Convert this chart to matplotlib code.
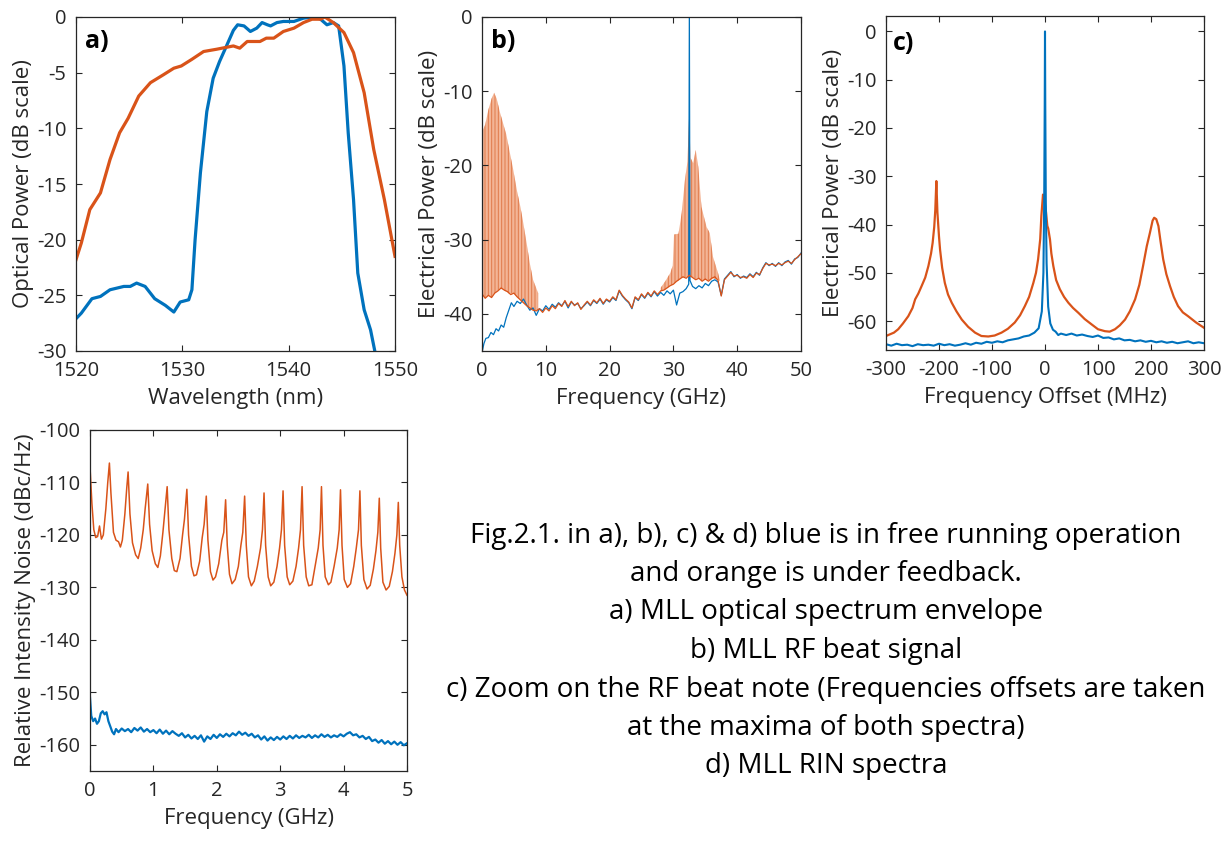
import matplotlib
matplotlib.use("Agg")
import matplotlib.pyplot as plt

plt.rcParams['font.family'] = ['Open Sans', 'DejaVu Sans']
plt.rcParams['hatch.linewidth'] = 0.7
plt.rcParams['axes.unicode_minus'] = False

BLUE = '#0072BD'
ORANGE = '#D95319'
DARK = '#262626'

# ---------------- panel a: optical spectrum envelope ----------------
a_wl_orange = [1520, 1520.5, 1521.3, 1522.3, 1523.2, 1524.1, 1524.9, 1525.9, 1527.0, 1528.2,
               1529.2, 1529.9, 1530.9, 1532.0, 1533.2, 1534.8, 1535.4, 1536.1, 1537.3, 1537.9,
               1538.6, 1539.5, 1540.5, 1541.4, 1542.2, 1543.0, 1543.4, 1544.2, 1545.2, 1546.1,
               1547.1, 1548.0, 1549.0, 1550.0]
a_orange = [-21.8, -20.3, -17.3, -15.8, -12.8, -10.4, -9.1, -7.1, -5.9, -5.2,
            -4.6, -4.4, -3.8, -3.1, -2.9, -2.6, -2.8, -2.2, -2.2, -1.9,
            -1.9, -1.3, -1.0, -0.5, -0.2, -0.2, 0.0, -0.5, -1.4, -3.2,
            -6.8, -11.9, -16.4, -21.5]
a_wl_blue = [1520, 1520.5, 1521.5, 1522.3, 1523.2, 1524.5, 1525.1, 1525.7, 1526.5, 1527.4,
             1528.4, 1529.2, 1529.8, 1530.6, 1530.9, 1531.2, 1531.7, 1532.3, 1532.9, 1533.5,
             1534.2, 1534.8, 1535.2, 1535.8, 1536.4, 1537.0, 1537.5, 1538.0, 1538.3, 1538.9,
             1539.5, 1540.5, 1541.4, 1542.5, 1543.0, 1543.6, 1544.2, 1544.7, 1545.2, 1545.6,
             1546.1, 1546.5, 1547.1, 1547.7, 1548.1, 1548.4]
a_blue = [-27.1, -26.6, -25.3, -25.1, -24.5, -24.2, -24.2, -23.9, -24.2, -25.3,
          -25.9, -26.5, -25.6, -25.4, -24.5, -20.0, -14.0, -8.5, -5.5, -4.0,
          -2.5, -1.2, -0.7, -0.8, -1.3, -1.0, -0.5, -0.7, -0.8, -0.5,
          -0.4, -0.4, -0.1, 0.0, -0.2, -0.7, -0.5, -0.8, -4.4, -10.4,
          -16.4, -23.0, -26.3, -28.1, -30.0, -31.0]

# ---------------- panel b: RF beat signal ----------------
b_freq_blue = [0, 0.05, 0.3, 0.6, 1.0, 1.4, 1.8, 2.2, 2.6, 3.0, 3.4, 3.8, 4.2, 4.6, 5.0, 5.5,
               6.0, 6.5, 7.0, 7.5, 8.0, 8.5, 9.0, 9.5,
               10.0, 10.5, 11.0, 11.5, 12.0, 12.5, 13.0, 13.5, 14.0, 14.5, 15.0, 15.5, 16.0, 16.5,
               17.0, 17.5, 18.0, 18.5, 19.0, 19.5, 20.0, 20.5, 21.0, 21.5, 22.0, 22.5, 23.0, 23.5,
               24.0, 24.5, 25.0, 25.5, 26.0, 26.5, 27.0, 27.5, 28.0, 28.5, 29.0, 29.5, 30.0, 30.5,
               31.0, 31.5, 32.0, 32.4, 32.5, 32.6, 33.0, 33.5, 34.0, 34.5, 35.0, 35.5, 36.0, 36.5,
               37.0, 37.5, 38.0, 38.5, 39.0, 39.5, 40.0, 40.5, 41.0, 41.5, 42.0, 42.5, 43.0, 43.5,
               44.0, 44.5, 45.0, 45.5, 46.0, 46.5, 47.0, 47.5, 48.0, 48.5, 49.0, 49.5, 50.0]
b_blue = [-33.5, -45.0, -44.0, -43.3, -43.2, -42.5, -42.8, -42.0, -42.3, -41.5, -41.8, -40.5, -39.5, -38.5, -39.0, -38.3,
          -38.6, -38.0, -38.8, -39.5, -39.2, -40.2, -39.3, -39.6,
          -38.9, -39.4, -38.7, -39.1, -38.5, -38.9, -38.3, -39.2, -38.4, -38.8, -38.6, -39.3, -38.9, -38.4,
          -38.9, -38.2, -38.6, -38.0, -38.7, -38.1, -38.4, -37.8, -38.2, -36.9, -37.6, -38.1, -38.5, -39.3,
          -37.8, -38.2, -37.4, -37.9, -37.2, -37.7, -37.0, -37.6, -37.1, -37.5, -36.9, -37.3, -36.8, -38.8,
          -37.2, -37.0, -36.6, -36.0, 1.0, -35.5, -36.3, -36.6, -36.2, -36.5, -35.9, -36.2, -35.6, -35.4,
          -35.7, -37.5, -35.3, -34.8, -34.3, -35.0, -34.7, -35.2, -34.9, -35.1, -34.6, -35.0, -34.4, -34.8,
          -33.8, -33.1, -33.5, -33.2, -33.6, -33.1, -33.5, -33.0, -32.8, -33.3, -32.6, -32.4, -31.8]

b_freq_orange = [0, 0.5, 1.0, 1.5, 2.0, 2.5, 3.0, 3.5, 4.0, 4.5, 5.0, 5.5, 6.0, 6.5, 7.0, 7.5, 8.0, 8.5,
                 9.0, 9.5, 10.0, 10.5, 11.0, 11.5, 12.0, 12.5, 13.0, 13.5, 14.0, 14.5, 15.0, 15.5,
                 16.0, 16.5, 17.0, 17.5, 18.0, 18.5, 19.0, 19.5, 20.0, 20.5, 21.0, 21.5, 22.0, 22.5,
                 23.0, 23.5, 24.0, 24.5, 25.0, 25.5, 26.0, 26.5, 27.0, 27.5, 28.0, 28.5, 29.0, 29.5,
                 30.0, 30.5, 31.0, 31.5, 32.0, 32.5, 33.0, 33.5, 34.0, 34.5, 35.0, 35.5, 36.0, 36.5,
                 37.0, 37.5, 38.0, 38.5, 39.0, 39.5, 40.0, 40.5, 41.0, 41.5, 42.0, 42.5, 43.0, 43.5,
                 44.0, 44.5, 45.0, 45.5, 46.0, 46.5, 47.0, 47.5, 48.0, 48.5, 49.0, 49.5, 50.0]
b_orange = [-37.3, -37.9, -37.5, -37.8, -37.2, -36.9, -36.5, -36.8, -37.0, -37.4, -37.2, -37.7, -38.1, -38.5, -38.9, -39.2, -39.5, -39.6,
            -39.3, -39.8, -39.2, -39.6, -38.9, -39.3, -38.6, -39.0, -38.2, -39.0, -38.3, -38.9, -38.5, -39.4,
            -38.8, -38.3, -38.8, -38.1, -38.5, -37.9, -38.6, -38.0, -38.3, -37.7, -38.1, -36.8, -37.5, -38.0,
            -38.4, -39.2, -37.7, -38.1, -37.3, -37.8, -37.1, -37.6, -36.9, -37.4, -36.9, -36.8, -36.5, -36.2,
            -36.0, -35.6, -35.3, -35.0, -35.2, -34.8, -35.1, -35.4, -35.2, -35.6, -35.3, -35.6, -35.2, -35.0,
            -35.5, -37.6, -35.4, -34.9, -34.4, -34.9, -34.8, -35.1, -35.0, -35.2, -34.7, -35.1, -34.5, -34.7,
            -33.9, -33.2, -33.4, -33.3, -33.5, -33.2, -33.4, -33.1, -32.9, -33.2, -32.7, -32.3, -31.9]

# comb regions (dense mode-beating lines under feedback): envelope top / bottom
comb1_freq = [0, 0.5, 1.0, 1.5, 1.9, 2.3, 2.8, 3.3, 3.8, 4.3, 4.9, 5.5, 6.0, 6.4, 7.0, 7.5, 8.0, 8.8]
comb1_top = [-15.5, -14.5, -12.5, -11.0, -10.2, -11.0, -12.8, -14.3, -15.8, -18.0, -20.6, -23.5,
             -25.5, -27.4, -30.5, -33.2, -35.4, -37.2]
comb1_bottom = [-37.3, -37.9, -37.5, -37.8, -37.3, -37.0, -36.6, -36.7, -37.0, -37.3, -37.2, -37.7,
                -38.1, -38.4, -38.9, -39.2, -39.5, -39.5]
comb2_freq = [28.0, 28.8, 29.5, 29.9, 30.1, 30.8, 31.3, 31.8, 32.2, 32.45, 32.7, 33.1, 33.5, 33.9,
              34.4, 35.2, 35.7, 36.2, 37.0, 37.3]
comb2_top = [-36.5, -35.5, -34.5, -33.5, -29.3, -29.2, -26.4, -22.0, -19.5, -13.6, -19.0, -19.7,
             -17.9, -20.2, -25.6, -28.3, -29.1, -32.3, -34.5, -35.5]
comb2_bottom = [-36.9, -36.7, -36.2, -36.0, -35.9, -35.5, -35.1, -35.1, -35.0, -34.9, -35.0, -35.1,
                -35.3, -35.2, -35.5, -35.4, -35.5, -35.2, -35.4, -35.6]

# ---------------- panel c: zoom on beat note ----------------
c_off_blue = [-300, -290, -280, -270, -260, -250, -240, -230, -220, -210, -200, -190, -180, -170,
              -160, -150, -140, -130, -120, -110, -100, -90, -80, -70, -60,
              -50, -40, -30, -20, -12, -6, -3, -1.5, -0.5, 0, 0.5, 1.5, 3, 6, 10, 15, 20, 25, 30,
              40, 50, 60, 70, 80, 90, 100, 110, 120, 130, 140, 150, 160, 170, 180, 190, 200, 210,
              220, 230, 240, 250, 260, 270, 280, 290, 300]
c_blue = [-64.8, -65.1, -64.7, -65.0, -64.9, -65.2, -64.8, -65.0, -64.9, -65.1, -64.7, -65.0, -64.8, -65.1,
          -64.9, -64.6, -64.9, -64.5, -64.7, -64.3, -64.5, -64.2, -64.4, -64.0, -63.8,
          -63.6, -63.2, -63.0, -62.4, -61.5, -58.0, -50.0, -35.0, -15.0, 0.0, -15.0, -35.0, -48.0, -57.0,
          -60.5, -61.8, -62.2, -62.9, -62.6,
          -62.9, -62.6, -63.0, -62.8, -63.1, -63.3, -63.0, -63.5, -63.4, -63.8, -63.6, -64.0, -63.9, -64.2,
          -64.0, -64.3, -64.1, -64.4, -64.2, -64.5, -64.3, -64.6, -64.4, -64.2, -64.6, -64.4, -64.6]
c_off_orange = [-300, -285, -277, -268, -258, -250, -245, -239, -233, -226,
                -220, -215, -212, -209, -207, -205, -203, -200, -198, -194,
                -189, -183, -176, -167, -157, -145, -132, -120, -107, -95,
                -82, -70, -57, -47, -38, -30, -22, -17, -13, -9,
                -6.9, -3.8, -1, 2, 4.4, 6, 9.4, 12, 15.7, 21,
                28, 36, 44, 53, 63, 75, 88, 100, 113, 122,
                132, 141, 151, 160, 170, 178, 185, 192, 198, 203,
                206, 210, 214, 218, 223, 229, 236, 243, 251, 260,
                270, 285, 300]
c_orange = [-63.1, -62.4, -61.7, -60.5, -59.0, -57.3, -55.5, -54.3, -52.8, -51.0,
            -48.6, -46.0, -43.8, -40.5, -37.0, -31.0, -37.5, -42.5, -45.2, -49.0,
            -52.1, -54.5, -56.2, -58.0, -59.7, -61.2, -62.4, -63.1, -63.2, -63.0,
            -62.4, -61.6, -60.3, -58.8, -56.9, -55.0, -52.1, -50.0, -47.2, -43.0,
            -38.3, -33.8, -35.0, -37.5, -40.3, -40.8, -43.1, -46.0, -48.6, -51.5,
            -53.4, -55.0, -56.2, -57.3, -58.3, -59.6, -60.7, -61.7, -62.1, -62.2,
            -61.7, -60.9, -59.7, -58.0, -55.5, -52.5, -48.6, -44.5, -41.7, -39.2,
            -38.6, -38.9, -40.3, -43.5, -47.2, -50.3, -52.8, -55.0, -56.9, -58.2,
            -59.0, -60.3, -61.4]

# ---------------- panel d: RIN spectra ----------------
d_freq_orange = [0, 0.03, 0.06, 0.09, 0.12, 0.15, 0.18, 0.21, 0.25, 0.28, 0.306,
                 0.33, 0.37, 0.41, 0.45, 0.48, 0.51, 0.55, 0.58, 0.601,
                 0.63, 0.67, 0.72, 0.76, 0.80, 0.84, 0.87, 0.911,
                 0.94, 0.98, 1.03, 1.07, 1.11, 1.15, 1.18, 1.217,
                 1.245, 1.29, 1.33, 1.37, 1.42, 1.46, 1.49, 1.528,
                 1.555, 1.60, 1.64, 1.68, 1.73, 1.77, 1.80, 1.834,
                 1.86, 1.90, 1.94, 1.98, 2.03, 2.08, 2.11, 2.139,
                 2.165, 2.20, 2.24, 2.29, 2.34, 2.38, 2.41, 2.439,
                 2.465, 2.50, 2.545, 2.59, 2.64, 2.69, 2.72, 2.745,
                 2.77, 2.81, 2.85, 2.90, 2.95, 2.99, 3.02, 3.045,
                 3.07, 3.11, 3.15, 3.20, 3.25, 3.29, 3.32, 3.345,
                 3.37, 3.41, 3.45, 3.50, 3.55, 3.60, 3.63, 3.651,
                 3.675, 3.71, 3.76, 3.80, 3.85, 3.90, 3.93, 3.951,
                 3.975, 4.01, 4.06, 4.11, 4.16, 4.20, 4.235, 4.257,
                 4.28, 4.32, 4.37, 4.42, 4.47, 4.51, 4.54, 4.563,
                 4.585, 4.62, 4.67, 4.72, 4.77, 4.81, 4.84, 4.863,
                 4.885, 4.92, 4.96, 5.0]
d_orange = [-107.0, -114.0, -119.0, -120.5, -120.3, -118.3, -120.8, -120.0, -115.0, -110.0, -106.3,
            -112.0, -119.5, -121.0, -121.3, -122.3, -121.0, -116.0, -111.0, -108.0,
            -116.0, -121.5, -123.8, -124.5, -122.5, -119.0, -115.0, -110.3,
            -118.0, -123.0, -125.5, -126.2, -124.0, -119.5, -115.5, -110.8,
            -119.0, -124.5, -126.8, -127.0, -124.5, -120.0, -117.0, -111.3,
            -120.0, -126.0, -127.8, -127.6, -125.0, -120.5, -118.0, -112.6,
            -121.0, -127.0, -128.6, -128.0, -125.5, -121.0, -119.5, -113.3,
            -122.0, -127.5, -129.3, -128.5, -126.0, -122.0, -119.5, -112.6,
            -122.0, -128.0, -129.7, -128.8, -126.0, -122.5, -119.0, -112.0,
            -122.0, -128.0, -129.7, -129.0, -126.0, -122.5, -119.0, -111.6,
            -122.0, -128.0, -129.5, -128.8, -126.0, -122.5, -119.0, -110.8,
            -122.0, -128.0, -129.7, -129.5, -126.0, -122.5, -119.0, -110.8,
            -122.0, -128.0, -129.5, -129.0, -126.0, -122.5, -119.0, -111.4,
            -122.0, -128.5, -130.0, -129.3, -126.0, -122.5, -119.0, -111.6,
            -122.0, -128.5, -130.3, -129.6, -126.5, -123.0, -119.5, -113.0,
            -122.5, -129.0, -130.5, -129.8, -127.0, -123.5, -120.0, -113.8,
            -122.0, -128.0, -130.5, -131.5]
d_freq_blue = [0, 0.02, 0.05, 0.08, 0.11, 0.14, 0.17, 0.2, 0.23, 0.26, 0.29, 0.32, 0.35, 0.38, 0.41,
               0.45, 0.50, 0.55, 0.60, 0.65, 0.70, 0.75, 0.80, 0.85, 0.90, 0.95, 1.00, 1.05, 1.10,
               1.15, 1.20, 1.25, 1.30, 1.35, 1.40, 1.45, 1.50, 1.55, 1.60, 1.65, 1.70, 1.75, 1.80,
               1.85, 1.90, 1.95, 2.00, 2.05, 2.10, 2.15, 2.20, 2.25, 2.30, 2.35, 2.40, 2.45, 2.50,
               2.55, 2.60, 2.65, 2.70, 2.75, 2.80, 2.85, 2.90, 2.95, 3.00, 3.05, 3.10, 3.15, 3.20,
               3.25, 3.30, 3.35, 3.40, 3.45, 3.50, 3.55, 3.60, 3.65, 3.70, 3.75, 3.80, 3.85, 3.90,
               3.95, 4.00, 4.05, 4.10, 4.15, 4.20, 4.25, 4.30, 4.35, 4.40, 4.45, 4.50, 4.55, 4.60,
               4.65, 4.70, 4.75, 4.80, 4.85, 4.90, 4.95, 5.00]
d_blue = [-151.0, -154.5, -155.5, -155.0, -156.0, -155.5, -154.0, -153.6, -154.2, -153.8, -155.5, -156.5, -157.5, -158.0, -157.0,
          -157.6, -156.9, -157.4, -157.0, -157.6, -156.8, -157.3, -156.7, -157.5, -157.0, -157.6, -157.2, -157.8, -157.1,
          -157.9, -157.3, -158.0, -157.4, -157.9, -158.3, -157.8, -158.6, -158.1, -158.8, -158.3, -158.9, -158.2, -159.4,
          -158.4, -158.9, -158.1, -158.7, -158.0, -158.5, -157.9, -158.4, -157.8, -158.2, -157.5, -158.1, -157.7, -158.3,
          -157.9, -158.6, -158.2, -159.0, -158.4, -159.2, -158.6, -159.1, -158.5, -159.0, -158.4, -158.9, -158.3, -158.8,
          -158.2, -158.7, -158.3, -158.6, -158.1, -158.7, -158.2, -158.6, -158.0, -158.5, -158.1, -158.6, -158.2, -158.5,
          -158.0, -158.4, -157.9, -157.6, -158.2, -158.0, -158.6, -158.3, -158.9, -158.5, -159.3, -159.0, -159.6, -159.1,
          -159.8, -159.3, -159.9, -159.4, -160.0, -159.5, -160.1, -159.7]

caption = ("Fig.2.1. in a), b), c) & d) blue is in free running operation\n"
           "and orange is under feedback.\n"
           "a) MLL optical spectrum envelope\n"
           "b) MLL RF beat signal\n"
           "c) Zoom on the RF beat note (Frequencies offsets are taken\n"
           "at the maxima of both spectra)\n"
           "d) MLL RIN spectra")

W, H = 1230, 842
fig = plt.figure(figsize=(W / 100, H / 100), dpi=100)


def px_axes(l, t, r, b):
    return fig.add_axes([l / W, 1 - b / H, (r - l) / W, (b - t) / H])


def style(ax, xlabel, ylabel, letter=None, lx=0.028, ly=0.965):
    for s in ax.spines.values():
        s.set_color(DARK)
        s.set_linewidth(0.9)
    ax.tick_params(direction='in', length=4, width=0.8, top=True, right=True,
                   colors=DARK, labelsize=14.5, pad=7)
    ax.set_xlabel(xlabel, fontsize=16, color=DARK, labelpad=5)
    ax.set_ylabel(ylabel, fontsize=16, color=DARK, labelpad=2)
    if letter:
        ax.text(lx, ly, letter, transform=ax.transAxes, ha='left', va='top',
                fontsize=18, fontweight='bold', color='black')


# panel a
axa = px_axes(76, 17, 395, 351)
axa.plot(a_wl_blue, a_blue, color=BLUE, lw=2.3)
axa.plot(a_wl_orange, a_orange, color=ORANGE, lw=2.3)
axa.set_xlim(1520, 1550)
axa.set_ylim(-30, 0)
axa.set_xticks([1520, 1530, 1540, 1550])
axa.set_yticks([-30, -25, -20, -15, -10, -5, 0])
style(axa, 'Wavelength (nm)', 'Optical Power (dB scale)', 'a)')

# panel b
axb = px_axes(482, 17, 801, 351)
axb.plot(b_freq_blue, b_blue, color=BLUE, lw=0.9)
axb.fill_between(comb1_freq, comb1_bottom, comb1_top, facecolor='#F3B596', edgecolor='#E07A4A',
                 hatch='|||||', linewidth=0)
axb.fill_between(comb2_freq, comb2_bottom, comb2_top, facecolor='#F3B596', edgecolor='#E07A4A',
                 hatch='|||||', linewidth=0)
axb.plot(b_freq_orange, b_orange, color=ORANGE, lw=0.9)
axb.set_xlim(0, 50)
axb.set_ylim(-45, 0)
axb.set_xticks([0, 10, 20, 30, 40, 50])
axb.set_yticks([-40, -30, -20, -10, 0])
style(axb, 'Frequency (GHz)', 'Electrical Power (dB scale)', 'b)')

# panel c
axc = px_axes(886, 16, 1204, 350)
axc.plot(c_off_orange, c_orange, color=ORANGE, lw=1.6)
axc.plot(c_off_blue, c_blue, color=BLUE, lw=1.5)
axc.set_xlim(-300, 300)
axc.set_ylim(-66, 3.2)
axc.set_xticks([-300, -200, -100, 0, 100, 200, 300])
axc.set_yticks([-60, -50, -40, -30, -20, -10, 0])
style(axc, 'Frequency Offset (MHz)', 'Electrical Power (dB scale)', 'c)', lx=0.022, ly=0.955)

# panel d
axd = px_axes(90, 430, 407, 771)
axd.plot(d_freq_orange, d_orange, color=ORANGE, lw=1.1)
axd.plot(d_freq_blue, d_blue, color=BLUE, lw=1.6)
axd.set_xlim(0, 5)
axd.set_ylim(-165, -100)
axd.set_xticks([0, 1, 2, 3, 4, 5])
axd.set_yticks([-160, -150, -140, -130, -120, -110, -100])
style(axd, 'Frequency (GHz)', 'Relative Intensity Noise (dBc/Hz)')

fig.text(826 / W, 1 - 651 / H, caption, ha='center', va='center', multialignment='center',
         fontsize=20, linespacing=1.5, color='black')

fig.savefig('out.png', dpi=100)
